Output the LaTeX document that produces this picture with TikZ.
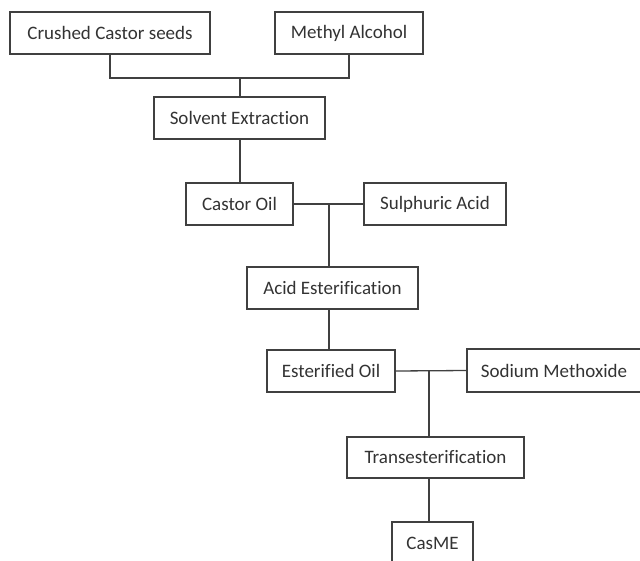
\documentclass[tikz,border=0pt]{standalone}
\usepackage{fontspec}
\setmainfont[Ligatures=NoCommon]{Carlito}
\begin{document}
\begin{tikzpicture}[x=1pt,y=-1pt,
  box/.style={draw=black!75, line width=1.3pt, fill=white, inner sep=0pt, font=\fontsize{19}{22}\selectfont, text=black!80},
  conn/.style={draw=black!75, line width=1.3pt}]
\useasboundingbox[fill=white] (0,0) rectangle (640,560);
\node[box, minimum width=200, minimum height=42] (seeds) at (110,33) {Crushed Castor seeds};
\node[box, minimum width=148, minimum height=42] (methyl) at (349,33) {Methyl Alcohol};
\node[box, minimum width=171, minimum height=42] (solvent) at (239.5,118) {Solvent Extraction};
\node[box, minimum width=107, minimum height=42] (castor) at (239.5,204) {Castor Oil};
\node[box, minimum width=142, minimum height=42] (sulph) at (435,204) {Sulphuric Acid};
\node[box, minimum width=171, minimum height=42] (acid) at (332.5,288) {Acid Esterification};
\node[box, minimum width=128, minimum height=42] (ester) at (331,371) {Esterified Oil};
\node[box, minimum width=174, minimum height=43] (sodium) at (554,370.5) {Sodium Methoxide};
\node[box, minimum width=177, minimum height=41] (trans) at (435.5,457.5) {Transesterification};
\node[box, minimum width=81, minimum height=42] (casme) at (432.5,543) {CasME};
\coordinate (j1) at (240,78);
\coordinate (j0) at (240,0);
\coordinate (j2) at (329,204);
\coordinate (j3) at (429,371);
\draw[conn] (seeds.south) |- (j1) -| (methyl.south);
\draw[conn] (j1) -- (solvent.north -| j1);
\draw[conn] (solvent.south -| j0) -- (castor.north -| j0);
\draw[conn] (castor.east) -- (sulph.west);
\draw[conn] (j2) -- (acid.north -| j2);
\draw[conn] (acid.south -| j2) -- (ester.north -| j2);
\draw[conn] (ester.east) -- (sodium.west);
\draw[conn] (j3) -- (trans.north -| j3);
\draw[conn] (trans.south -| j3) -- (casme.north -| j3);
\end{tikzpicture}
\end{document}
